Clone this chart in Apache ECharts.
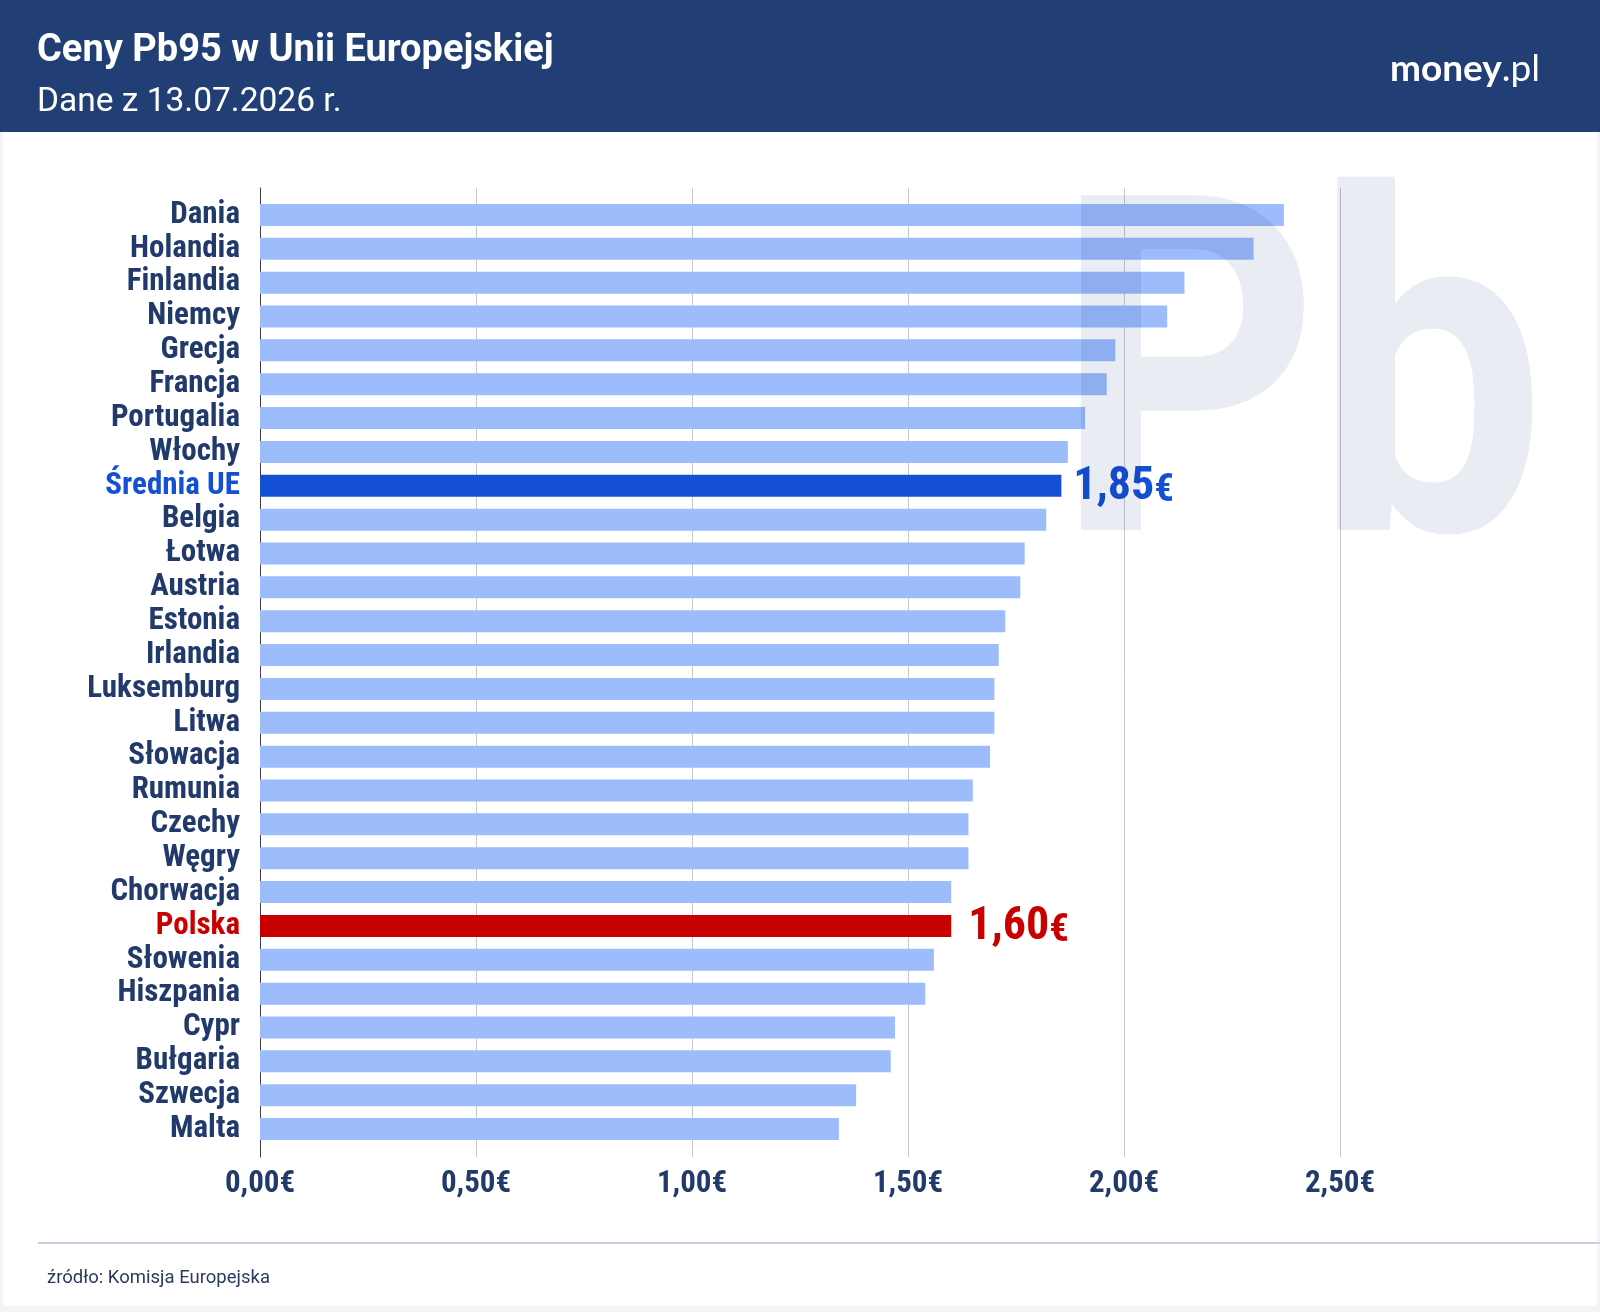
<!DOCTYPE html>
<html lang="pl">
<head>
  <meta charset="utf-8" />
  <title>Ceny Pb95 w Unii Europejskiej</title>
  <style>
    html, body { margin: 0; padding: 0; background: #fff; }
    #chart { width: 1600px; height: 1312px; }
  </style>
  <script src="https://cdn.jsdelivr.net/npm/echarts@6/dist/echarts.min.js"></script>
</head>
<body>
  <div id="chart"></div>
<script>
  "use strict";

  // dane z wykresu (EUR za litr)
  var countries = ['Dania', 'Holandia', 'Finlandia', 'Niemcy', 'Grecja', 'Francja', 'Portugalia', 'Włochy',
    'Średnia UE', 'Belgia', 'Łotwa', 'Austria', 'Estonia', 'Irlandia', 'Luksemburg', 'Litwa', 'Słowacja',
    'Rumunia', 'Czechy', 'Węgry', 'Chorwacja', 'Polska', 'Słowenia', 'Hiszpania', 'Cypr', 'Bułgaria',
    'Szwecja', 'Malta'];
  var prices = [2.37, 2.30, 2.14, 2.10, 1.98, 1.96, 1.91, 1.87,
    1.855, 1.82, 1.77, 1.76, 1.725, 1.71, 1.70, 1.70, 1.69,
    1.65, 1.64, 1.64, 1.60, 1.60, 1.56, 1.54, 1.47, 1.46,
    1.38, 1.34];
  var axisTicks = [0, 0.5, 1, 1.5, 2, 2.5];

  var NAVY = '#223a6b';
  var UE_BLUE = '#1450d4';
  var PL_RED = '#c80000';
  var COND = "'Roboto Condensed', 'Liberation Sans Narrow', Roboto, sans-serif";

  function euro(v) {
    return v.toFixed(2).replace('.', ',');
  }

  var highlight = {
    'Średnia UE': { color: UE_BLUE, distance: 12 },
    'Polska': { color: PL_RED, distance: 17 }
  };

  var barData = countries.map(function (name, i) {
    var h = highlight[name];
    if (!h) {
      return { value: prices[i] };
    }
    return {
      value: prices[i],
      itemStyle: { color: h.color },
      label: {
        show: true,
        position: 'right',
        distance: h.distance,
        formatter: function (p) {
          return '{v|' + euro(p.value) + '}{e|€}';
        },
        rich: {
          v: { fontFamily: COND, fontWeight: 'bold', fontSize: 46, lineHeight: 50, color: h.color, verticalAlign: 'bottom' },
          e: { fontFamily: COND, fontWeight: 'bold', fontSize: 39, lineHeight: 46, color: h.color, verticalAlign: 'bottom' }
        }
      }
    };
  });

  // znak wodny "Pb" jako obrazek SVG, nakładany trybem multiply (słupki pod nim ciemnieją)
  var pbSvg = "<svg xmlns='http://www.w3.org/2000/svg' width='600' height='420'>" +
    "<g font-family='Roboto' font-weight='bold' font-size='471' fill='#e9ecf3'>" +
    "<text transform='translate(55,380) scale(0.87,1)'>P</text>" +
    "<text transform='translate(315,380) scale(0.87,1)'>b</text>" +
    "</g></svg>";
  var pbImage = 'data:image/svg+xml;charset=utf-8,' + encodeURIComponent(pbSvg);

  var myChart = echarts.init(document.getElementById('chart'));

  var option = {
    backgroundColor: '#f3f4f8',
    animation: false,
    title: [{
      text: 'Ceny Pb95 w Unii Europejskiej',
      left: 37, top: 29, padding: 0,
      textStyle: { color: '#fff', fontFamily: 'Roboto', fontWeight: 'bold', fontSize: 38, lineHeight: 44 }
    }, {
      text: 'Dane z 13.07.2026 r.',
      left: 37, top: 83, padding: 0,
      textStyle: { color: '#fff', fontFamily: 'Roboto', fontWeight: 'normal', fontSize: 33.5, lineHeight: 40 }
    }, {
      text: '{a|money}{b|.pl}',
      left: 1390, top: 47, padding: 0,
      textStyle: {
        rich: {
          a: { color: '#fff', fontFamily: 'Lato', fontWeight: 'bold', fontSize: 37, lineHeight: 44 },
          b: { color: '#fff', fontFamily: 'Lato', fontWeight: 'normal', fontSize: 37, lineHeight: 44 }
        }
      }
    }, {
      text: 'źródło: Komisja Europejska',
      left: 47, top: 1266, padding: 0,
      textStyle: { color: '#2b3a5c', fontFamily: 'Roboto', fontWeight: 'normal', fontSize: 18.5, lineHeight: 24 }
    }],
    graphic: [
      { type: 'rect', z: -20, shape: { x: 3, y: 0, width: 1594, height: 1306 }, style: { fill: '#fff' } },
      { type: 'rect', z: -19, shape: { x: 0, y: 0, width: 1600, height: 132 }, style: { fill: '#223f75' } },
      { type: 'line', z: -19, shape: { x1: 38, y1: 1243, x2: 1600, y2: 1243 }, style: { stroke: '#c8cfe4', lineWidth: 2 } },
      {
        type: 'image', z: 5, silent: true,
        style: { image: pbImage, x: 1000, y: 150, width: 600, height: 420, blend: 'multiply' }
      }
    ],
    grid: [
      { left: 260, top: 198, width: 1296, height: 948 },
      { left: 260, top: 188, width: 1296, height: 969 }
    ],
    xAxis: [{
      gridIndex: 0, type: 'value', min: 0, max: 3, show: false
    }, {
      gridIndex: 1, type: 'value', min: 0, max: 3, interval: 0.5,
      axisLine: { show: false },
      axisTick: { show: false },
      splitLine: {
        show: true,
        lineStyle: { color: ['#c6c8ce', '#c6c8ce', '#c6c8ce', '#c6c8ce', '#c6c8ce', '#c6c8ce', 'rgba(0,0,0,0)'], width: 1 }
      },
      axisLabel: {
        margin: 12,
        color: NAVY, fontFamily: COND, fontWeight: 'bold', fontSize: 31, lineHeight: 31,
        formatter: function (v) {
          return axisTicks.indexOf(v) >= 0 ? euro(v) + '€' : '';
        }
      }
    }],
    yAxis: [{
      gridIndex: 0, type: 'category', inverse: true, data: countries,
      axisLine: { show: false },
      axisTick: { show: false },
      splitLine: { show: false },
      axisLabel: {
        interval: 0,
        margin: 20,
        color: NAVY, fontFamily: COND, fontWeight: 'bold', fontSize: 31,
        formatter: function (v) {
          if (v === 'Średnia UE') return '{ue|' + v + '}';
          if (v === 'Polska') return '{pl|' + v + '}';
          return v;
        },
        rich: {
          ue: { color: UE_BLUE, fontFamily: COND, fontWeight: 'bold', fontSize: 31 },
          pl: { color: PL_RED, fontFamily: COND, fontWeight: 'bold', fontSize: 31 }
        }
      }
    }, {
      gridIndex: 1, type: 'value', min: 0, max: 1,
      axisLine: { show: true, lineStyle: { color: '#3a3d44', width: 1 } },
      axisTick: { show: false },
      axisLabel: { show: false },
      splitLine: { show: false }
    }],
    series: [{
      type: 'bar',
      xAxisIndex: 0,
      yAxisIndex: 0,
      barWidth: 22,
      itemStyle: { color: '#9dbcfc' },
      data: barData
    }]
  };

  myChart.setOption(option);
</script>
</body>
</html>
